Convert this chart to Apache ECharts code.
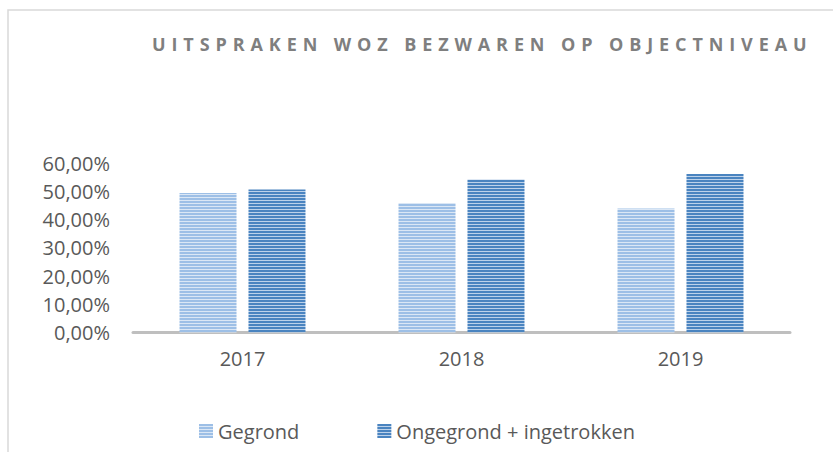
<!DOCTYPE html>
<html>
<head>
<meta charset="utf-8">
<script src="https://cdn.jsdelivr.net/npm/echarts@6/dist/echarts.min.js"></script>
<style>
  html, body { margin: 0; padding: 0; background: #fff; }
  #chart { width: 833px; height: 452px; }
</style>
</head>
<body>
<div id="chart"></div>
<script>
/* data */
var years = ['2017', '2018', '2019'];
var gegrond = [49.4, 45.8, 43.9];
var ongegrond = [50.6, 54.2, 56.1];
var yTicks = [0, 10, 20, 30, 40, 50, 60];

/* horizontal stripes, like the Excel fill */
var stripes = function(dark, light) {
    var c = document.createElement('canvas');
    c.width = 4;
    c.height = 3;
    var ctx = c.getContext('2d');
    ctx.fillStyle = dark;
    ctx.fillRect(0, 0, 4, 2);
    ctx.fillStyle = light;
    ctx.fillRect(0, 2, 4, 1);
    return { image: c, repeat: 'repeat' };
};

var box = document.getElementById('chart');
var myChart = echarts.init(box, null, { renderer: 'svg' });

var labelColor = '#595959';
var font = '"Open Sans", sans-serif';

var option = {
    animation: false,
    title: {
        text: 'UITSPRAKEN WOZ BEZWAREN OP OBJECTNIVEAU',
        left: 152,
        top: 35,
        padding: 0,
        textStyle: {
            fontFamily: font,
            fontSize: 18,
            fontWeight: 'bold',
            color: '#7f7f7f'
        }
    },
    legend: {
        left: 199,
        top: 421,
        padding: 0,
        itemWidth: 14,
        itemHeight: 14,
        itemGap: 78,
        icon: 'rect',
        textStyle: { fontFamily: font, fontSize: 20, color: labelColor },
        data: ['Gegrond', 'Ongegrond + ingetrokken']
    },
    grid: { left: 133, right: 43, top: 163, bottom: 119.5 },
    xAxis: {
        type: 'category',
        data: years,
        axisLine: { lineStyle: { color: '#bfbfbf', width: 3 } },
        axisTick: { show: false },
        axisLabel: { fontFamily: font, fontSize: 20, color: labelColor, margin: 16 }
    },
    yAxis: {
        type: 'value',
        min: yTicks[0],
        max: yTicks[yTicks.length - 1],
        interval: 10,
        splitLine: { show: false },
        axisLabel: {
            fontFamily: font,
            fontSize: 20,
            color: labelColor,
            margin: 23,
            formatter: function(v) { return v.toFixed(2).replace('.', ',') + '%'; }
        }
    },
    series: [
        {
            name: 'Gegrond',
            type: 'bar',
            barWidth: 57,
            barGap: '21%',
            data: gegrond,
            itemStyle: { color: stripes('#9dbfe6', '#dbe7f5') }
        },
        {
            name: 'Ongegrond + ingetrokken',
            type: 'bar',
            barWidth: 57,
            data: ongegrond,
            itemStyle: { color: stripes('#4a84c0', '#bdd2ea') }
        }
    ],
    graphic: [{
        type: 'rect',
        silent: true,
        shape: { x: 8, y: 10, width: 840, height: 460 },
        style: { fill: 'none', stroke: '#d9d9d9', lineWidth: 1.5 }
    }]
};

myChart.setOption(option);

/* Excel title uses wide letter spacing */
var spaceTitle = function() {
    var texts = box.querySelectorAll('text');
    for (var i = 0; i < texts.length; i++) {
        if (texts[i].textContent.indexOf('UITSPRAKEN') === 0) {
            texts[i].style.letterSpacing = '5.9px';
        }
    }
};
spaceTitle();
myChart.on('finished', spaceTitle);
</script>
</body>
</html>
